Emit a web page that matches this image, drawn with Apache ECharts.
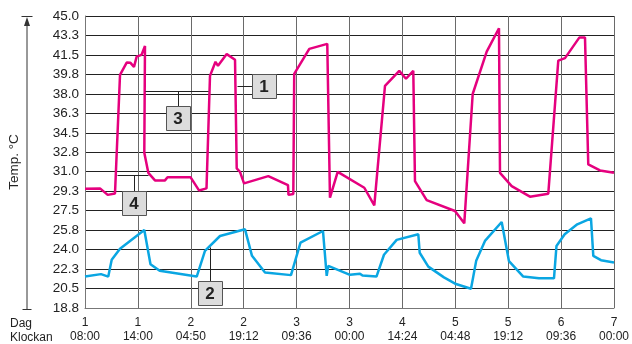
<!DOCTYPE html>
<html>
<head>
<meta charset="utf-8">
<script src="https://cdn.jsdelivr.net/npm/echarts@6/dist/echarts.min.js"></script>
<style>
html,body{margin:0;padding:0;background:#fff;}
#chart{width:632px;height:344px;}
</style>
</head>
<body>
<div id="chart"></div>
<script>
// X axis tick labels (11 equally spaced ticks, index 0..10)
const X_DAYS  = ['1','1','2','2','3','3','4','5','5','6','7'];
const X_TIMES = ['08:00','14:00','04:50','19:12','09:36','00:00','14:24','04:48','19:12','09:36','00:00'];
// Y axis range (15 intervals)
const Y_MIN = 18.8;
const Y_MAX = 45.0;
const Y_STEPS = 15;

// Pink series: x in tick-index units, temperature in °C
const PINK_X = [0,0.284,0.429,0.567,0.662,0.788,0.860,0.926,0.977,1.068,1.134,1.121,1.197,1.323,1.512,1.560,1.994,2.155,2.297,2.363,2.467,2.514,2.679,2.836,2.868,2.930,3.006,3.465,3.837,3.847,3.938,3.955,4.240,4.580,4.631,4.777,5.280,5.469,5.671,5.941,6.068,6.206,6.238,6.459,6.994,7.170,7.329,7.594,7.826,7.845,8.066,8.412,8.758,8.947,9.074,9.344,9.452,9.514,9.735,10];
const PINK_T = [29.49,29.53,28.95,29.08,39.72,40.82,40.80,40.44,41.36,41.51,42.32,32.72,30.93,30.25,30.25,30.54,30.54,29.35,29.53,39.63,40.89,40.53,41.58,41.07,31.32,31.01,29.98,30.63,29.83,28.95,29.02,39.81,42.05,42.50,28.70,31.02,29.59,28.01,38.74,40.08,39.37,40.08,30.18,28.48,27.50,26.40,38.00,41.81,43.90,30.93,29.74,28.79,29.06,41.00,41.22,43.06,43.06,31.68,31.14,30.93];

// Blue series
const BLUE_X = [0,0.302,0.440,0.505,0.662,1.121,1.238,1.412,2.112,2.268,2.552,3.025,3.157,3.403,3.894,4.074,4.499,4.569,4.599,5.009,5.198,5.246,5.510,5.652,5.892,6.301,6.327,6.490,6.786,7.013,7.297,7.395,7.561,7.877,8.015,8.285,8.582,8.866,8.913,9.068,9.306,9.565,9.609,9.754,10];
const BLUE_T = [21.63,21.84,21.62,23.12,24.12,25.79,22.73,22.14,21.62,23.92,25.26,25.86,23.48,21.99,21.75,24.67,25.71,21.69,22.58,21.78,21.88,21.71,21.62,23.58,24.91,25.42,23.76,22.51,21.55,20.95,20.53,23.03,24.82,26.52,23.00,21.62,21.46,21.46,24.37,25.42,26.31,26.85,23.48,23.09,22.89];

// Callout annotations (data coordinates)
const CALLOUT_LABELS = ['1','2','3','4'];
const CALLOUT_BOX = [[3.393,38.74],[2.369,20.12],[1.758,35.82],[0.921,28.22]];

const PINK = '#e5007e';
const BLUE = '#0aa6e2';
const FONT = '"Liberation Sans", Arial, Helvetica, sans-serif';

const chart = echarts.init(document.getElementById('chart'), null, {renderer:'canvas'});
const zip = (xs, ys) => xs.map((x, i) => [x, ys[i]]);

chart.setOption({
  animation: false,
  backgroundColor: '#fff',
  grid: {left: 85, right: 18, top: 16, bottom: 35},
  xAxis: {
    type: 'value', min: 0, max: X_DAYS.length - 1, interval: 1,
    axisLine: {show: true, lineStyle: {color: '#777', width: 1}},
    axisTick: {show: false},
    splitLine: {show: true, lineStyle: {color: '#6a6a6a', width: 1}},
    axisLabel: {
      formatter: v => X_DAYS[Math.round(v)] + '\n' + X_TIMES[Math.round(v)],
      color: '#222', fontSize: 12, lineHeight: 14, margin: 8, fontFamily: FONT,
      showMinLabel: true, showMaxLabel: true
    }
  },
  yAxis: {
    type: 'value', min: Y_MIN, max: Y_MAX, interval: (Y_MAX - Y_MIN) / Y_STEPS,
    axisLine: {show: true, lineStyle: {color: '#777', width: 1}},
    axisTick: {show: false},
    splitLine: {show: true, lineStyle: {color: '#222', width: 1}},
    axisLabel: {
      formatter: v => v.toFixed(1),
      color: '#222', fontSize: 13.5, margin: 6, fontFamily: FONT
    }
  },
  series: [
    {type: 'line', data: zip(BLUE_X, BLUE_T), showSymbol: false, lineStyle: {color: BLUE, width: 2.5}, itemStyle: {color: BLUE}, z: 3},
    {type: 'line', data: zip(PINK_X, PINK_T), showSymbol: false, lineStyle: {color: PINK, width: 2.5}, itemStyle: {color: PINK}, z: 4}
  ]
});

// Build annotations
const g = [];
const ink = '#333';
// Y axis title with arrow
g.push({type: 'line', shape: {x1: 27, y1: 24, x2: 27, y2: 310}, style: {stroke: ink, lineWidth: 1}, z: 10});
g.push({type: 'polygon', shape: {points: [[27, 17], [24, 26], [30, 26]]}, style: {fill: ink}, z: 10});
g.push({type: 'line', shape: {x1: 21.5, y1: 16.5, x2: 32.5, y2: 16.5}, style: {stroke: ink, lineWidth: 1}, z: 10});
g.push({type: 'line', shape: {x1: 22.5, y1: 309.5, x2: 31.5, y2: 309.5}, style: {stroke: ink, lineWidth: 1}, z: 10});
g.push({type: 'text', x: 14, y: 162, rotation: Math.PI / 2,
  style: {text: 'Temp. °C', fill: '#222', font: '13.5px ' + FONT, align: 'center', verticalAlign: 'middle'}, z: 10});
g.push({type: 'text', x: 10, y: 324, style: {text: 'Dag', fill: '#222', font: '12px ' + FONT, align: 'left', verticalAlign: 'middle'}, z: 10});
g.push({type: 'text', x: 10, y: 338, style: {text: 'Klockan', fill: '#222', font: '12px ' + FONT, align: 'left', verticalAlign: 'middle'}, z: 10});

const P = (x, y) => chart.convertToPixel({gridIndex: 0}, [x, y]);
const line = (a, b) => ({type: 'line', shape: {x1: Math.round(a[0]) + 0.5, y1: Math.round(a[1]) + 0.5, x2: Math.round(b[0]) + 0.5, y2: Math.round(b[1]) + 0.5}, style: {stroke: '#222', lineWidth: 1}, z: 20});
const box = (lbl, c) => {
  const p = P(c[0], c[1]);
  g.push({type: 'rect', shape: {x: Math.round(p[0]) - 12 + 0.5, y: Math.round(p[1]) - 12 + 0.5, width: 24, height: 24},
    style: {fill: '#dcdcdc', stroke: '#555', lineWidth: 1}, z: 21});
  g.push({type: 'text', x: Math.round(p[0]), y: Math.round(p[1]) + 1,
    style: {text: lbl, fill: '#222', font: 'bold 17px ' + FONT, align: 'center', verticalAlign: 'middle'}, z: 22});
  return p;
};
// Leader lines
// 1: horizontal from pink drop to box
g.push(line(P(2.868, 38.74), P(3.393 - 0.227, 38.74)));
// 3: horizontal bracket + vertical
g.push(line(P(1.134, 38.23), P(2.331, 38.23)));
g.push(line(P(1.758, 38.23), P(1.758, 35.82 + 1.07)));
// 4: horizontal bracket + vertical
g.push(line(P(0.611, 30.69), P(1.197, 30.69)));
g.push(line(P(0.921, 30.69), P(0.921, 28.22 + 1.07)));
// 2: vertical to blue line
g.push(line(P(2.369, 24.25), P(2.369, 20.12 + 1.07)));
CALLOUT_LABELS.forEach((l, i) => box(l, CALLOUT_BOX[i]));

chart.setOption({graphic: g});
</script>
</body>
</html>
